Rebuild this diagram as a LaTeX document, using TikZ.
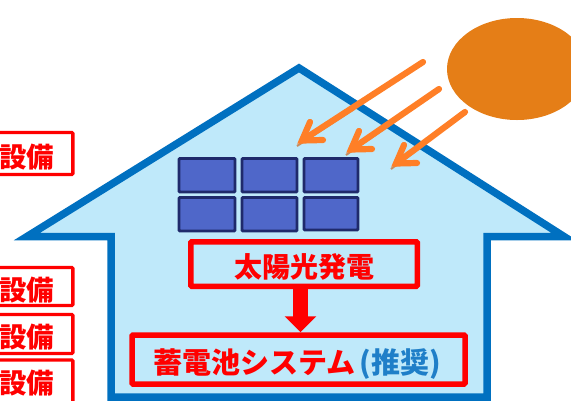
\documentclass[tikz,border=0pt]{standalone}
\usepackage{fontspec}
\newfontfamily\cjk{Noto Sans CJK JP}
\usetikzlibrary{arrows.meta,calc}
\definecolor{houseblue}{HTML}{0070C0}
\definecolor{housefill}{HTML}{BFE9FA}
\definecolor{panelfill}{HTML}{4F67C9}
\definecolor{paneledge}{HTML}{1F2A6B}
\definecolor{sunfill}{HTML}{E57E17}
\definecolor{rayfill}{HTML}{FF7F27}
\definecolor{recblue}{HTML}{1F7FC8}
\tikzset{
  panel/.style={draw=paneledge,fill=panelfill,line width=2.9pt,rounded corners=1pt},
  house/.style={draw=houseblue,fill=housefill,line width=7.5pt,line join=miter,miter limit=10},
  redbox/.style={draw=red,line width=5.5pt,rounded corners=1pt,inner sep=0pt,outer sep=.5\pgflinewidth,text=red,font=\cjk\bfseries\fontsize{28}{28}\selectfont},
  sidebox/.style={draw=red,line width=3.4pt,rounded corners=1pt,inner sep=0pt,anchor=east,text=red,font=\cjk\bfseries\fontsize{27.5}{28}\selectfont},
  raysh/.style={draw=rayfill,line width=6.2pt,line cap=round,line join=miter,miter limit=10},
  rayedge/.style={draw=rayfill!80!black,line width=2pt,opacity=.7},
}
\newcommand{\ray}[2]{%
  \draw[rayedge] ($(#2)+(1,2)$) -- ($(#1)!.55!(#2)+(1,2)$);
  \draw[raysh] (#1) -- ($(#2)+(6,-3.5)$);
  \draw[raysh] ($(#2)+(14,-22)$) -- ($(#2)+(6,-3.5)$) -- ($(#2)+(27,-4)$);
}
\newcommand{\lowered}[2]{\raisebox{-#1pt}[0pt][0pt]{#2}}
\begin{document}
\begin{tikzpicture}[x=1pt,y=-1pt]
\useasboundingbox (0,0) rectangle (571,400);
\clip (0,0) rectangle (571,400);
% sun
\fill[sunfill] (517,69) ellipse [x radius=70,y radius=51];
% house
\draw[house] (111,397) -- (111,236.5) -- (27,236.5) -- (299,68) -- (564,236.5) -- (487,236.5) -- (487,397) -- cycle;
% panels
\foreach \n/\xa/\xb/\ya/\yb in {p1/179/235/158.5/192,p2/242/297/158.5/192,p3/304/358/158.5/192,p4/179/235/197.5/231,p5/242/297/197.5/231,p6/304/358/197.5/230}
  \draw[panel] (\xa,\ya) rectangle (\xb,\yb);
% rays
\coordinate (r1a) at (423,62); \coordinate (r1b) at (296,144);
\coordinate (r2a) at (439,89); \coordinate (r2b) at (345,153);
\coordinate (r3a) at (465,112); \coordinate (r3b) at (390,167);
\ray{r1a}{r1b}
\ray{r2a}{r2b}
\ray{r3a}{r3b}
% red boxes
\node[redbox,minimum width=226.5pt,minimum height=44.5pt] (pv) at (304,264) {\lowered{13.6}{太陽光発電}};
\node[redbox,minimum width=333pt,minimum height=49pt] (batt) at (298.5,359.5) {\hspace*{-3pt}\lowered{13.5}{\fontsize{29}{29}\selectfont 蓄電池システム\kern4pt\textcolor{recblue}{(推奨)}}};
\draw[red,line width=15pt,-{Triangle[length=16pt,width=31pt]}] ($(pv.south)+(-3.5,0)$) -- ($(batt.north)+(2,0)$);
% side boxes
\node[sidebox,minimum width=104pt,minimum height=42pt] (s1) at (74.5,153.5) {\hspace*{12pt}\lowered{14}{設備}};
\node[sidebox,minimum width=104pt,minimum height=38pt] (s2) at (74.5,286.5) {\hspace*{12pt}\lowered{14}{設備}};
\node[sidebox,minimum width=104pt,minimum height=39pt] (s3) at (74.5,334) {\hspace*{12pt}\lowered{13.5}{設備}};
\node[sidebox,minimum width=104pt,minimum height=60pt] (s4) at (74.5,390) {\hspace*{12pt}\lowered{3.5}{設備}};
\end{tikzpicture}
\end{document}
